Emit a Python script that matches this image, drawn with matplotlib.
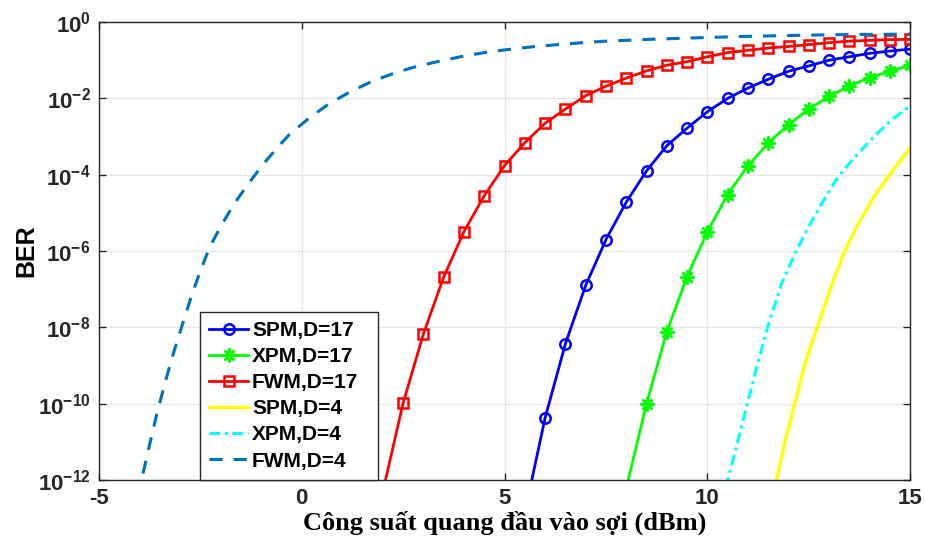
import numpy as np
import matplotlib
matplotlib.use("Agg")
import matplotlib.pyplot as plt
from matplotlib.ticker import FixedLocator

plt.rcParams['font.family'] = ['Liberation Sans', 'DejaVu Sans']
plt.rcParams['font.weight'] = 'bold'
plt.rcParams['mathtext.fontset'] = 'custom'
plt.rcParams['mathtext.rm'] = 'Liberation Sans:bold'
plt.rcParams['mathtext.bf'] = 'Liberation Sans:bold'
plt.rcParams['mathtext.default'] = 'bf'

# input power (dBm) and log10(BER) for each curve
p_d17_spm = [5.5, 6.0, 6.5, 7.0, 7.5, 8.0, 8.5, 9.0, 9.5, 10.0, 10.5, 11.0, 11.5,
             12.0, 12.5, 13.0, 13.5, 14.0, 14.5, 15.0]
spm17_log = [-12.85, -10.37, -8.43, -6.90, -5.70, -4.72, -3.90, -3.24, -2.78, -2.35,
             -2.00, -1.73, -1.50, -1.29, -1.15, -1.00, -0.91, -0.82, -0.76, -0.71]

p_d17_xpm = [8.0, 8.5, 9.0, 9.5, 10.0, 10.5, 11.0, 11.5, 12.0, 12.5, 13.0, 13.5,
             14.0, 14.5, 15.0]
xpm17_log = [-12.22, -10.00, -8.12, -6.67, -5.50, -4.52, -3.77, -3.17, -2.69, -2.28,
             -1.95, -1.67, -1.46, -1.29, -1.13]

p_d17_fwm = [2.0, 2.5, 3.0, 3.5, 4.0, 4.5, 5.0, 5.5, 6.0, 6.5, 7.0, 7.5, 8.0, 8.5,
             9.0, 9.5, 10.0, 10.5, 11.0, 11.5, 12.0, 12.5, 13.0, 13.5, 14.0, 14.5, 15.0]
fwm17_log = [-12.30, -9.98, -8.17, -6.68, -5.49, -4.55, -3.76, -3.16, -2.65, -2.28,
             -1.93, -1.68, -1.47, -1.28, -1.13, -1.04, -0.91, -0.80, -0.74, -0.68,
             -0.64, -0.59, -0.54, -0.50, -0.48, -0.46, -0.455]

p_d4_spm = [11.65, 11.92, 12.16, 12.41, 12.74, 13.11, 13.36, 13.68, 14.10, 14.51, 15.0]
spm4_log = [-12.27, -10.97, -9.98, -8.94, -7.90, -6.77, -6.07, -5.37, -4.59, -3.98, -3.30]

p_d4_xpm = [10.45, 10.72, 10.97, 11.22, 11.50, 11.83, 12.20, 12.53, 12.86, 13.19,
            13.52, 14.01, 14.51, 15.0]
xpm4_log = [-12.20, -11.11, -10.07, -9.03, -7.95, -6.85, -5.98, -5.30, -4.68, -4.11,
            -3.68, -3.11, -2.59, -2.20]

p_d4_fwm = [-4.05, -3.95, -3.79, -3.58, -3.37, -3.17, -2.92, -2.71, -2.51, -2.27, -2.02,
            -1.69, -1.36, -0.95, -0.54, -0.30, 0.20, 0.69, 1.19, 1.72, 2.30, 2.84,
            3.42, 4.00, 4.57, 5.15, 5.72, 6.34, 6.92, 7.50, 8.67, 9.82, 10.97, 12.12,
            13.27, 14.42, 15.0]
fwm4_log = [-12.45, -12.00, -11.25, -10.30, -9.45, -8.70, -7.85, -7.15, -6.55, -5.90,
            -5.40, -4.80, -4.30, -3.72, -3.22, -2.94, -2.50, -2.13, -1.83, -1.56, -1.33,
            -1.16, -1.02, -0.89, -0.79, -0.71, -0.645, -0.59, -0.54, -0.50, -0.45, -0.41,
            -0.375, -0.35, -0.33, -0.32, -0.315]

x_ticks = [-5, 0, 5, 10, 15]
y_exps = [0, -2, -4, -6, -8, -10, -12]

def ber(vals):
    return 10.0 ** np.array(vals)

fig = plt.figure(figsize=(9.25, 5.38), dpi=100)
ax = fig.add_axes([0.107, 0.108, 0.877, 0.851])

lw = 2.0
ax.semilogy(p_d17_spm, ber(spm17_log), color=(0, 0, 1), lw=lw, marker='o', ms=7.5,
            mfc='none', mew=1.8, label='SPM,D=17')
ax.semilogy(p_d17_xpm, ber(xpm17_log), color=(0, 1, 0), lw=lw, marker=(8, 2, 0),
            ms=10, mew=1.8, label='XPM,D=17')
ax.semilogy(p_d17_fwm, ber(fwm17_log), color=(1, 0, 0), lw=lw, marker='s', ms=7,
            mfc='none', mew=1.8, label='FWM,D=17')
ax.semilogy(p_d4_spm, ber(spm4_log), color=(1, 1, 0), lw=2.4, label='SPM,D=4')
ax.semilogy(p_d4_xpm, ber(xpm4_log), color=(0, 1, 1), lw=2.2,
            linestyle=(0, (3.5, 1.5, 1.0, 1.5)), label='XPM,D=4')
ax.semilogy(p_d4_fwm, ber(fwm4_log), color='#0072BD', lw=2.2,
            linestyle=(0, (4.3, 3.6)), label='FWM,D=4')

ax.set_xlim(-5, 15)
ax.set_ylim(1e-12, 1e0)
ax.xaxis.set_major_locator(FixedLocator(x_ticks))
ax.yaxis.set_major_locator(FixedLocator([10.0 ** e for e in y_exps]))
ax.yaxis.set_minor_locator(FixedLocator([]))
ax.set_yticklabels([r'$10^{%d}$' % e for e in y_exps])
ax.set_xticklabels([str(t) for t in x_ticks])

ax.grid(True, color=(0.9, 0.9, 0.9), lw=0.9)
ax.set_axisbelow(True)
ax.tick_params(direction='in', length=5, width=1, top=True, right=True,
               labelsize=16, colors=(0.15, 0.15, 0.15), pad=6)
for s in ax.spines.values():
    s.set_color((0.15, 0.15, 0.15))
    s.set_linewidth(1)

ax.set_ylabel('BER', fontsize=18, fontweight='bold', labelpad=0)
ax.set_xlabel('Công suất quang đầu vào sợi (dBm)', fontsize=19, fontweight='bold',
              family=['Liberation Serif', 'DejaVu Serif'], labelpad=1)

leg = ax.legend(loc='lower left', bbox_to_anchor=(0.1245, 0.0, 0.2195, 0.365),
                mode='expand', fontsize=15, handlelength=1.85, handletextpad=0.2,
                labelspacing=0.34, borderpad=0.45, borderaxespad=0.0,
                fancybox=False, framealpha=1, edgecolor=(0.15, 0.15, 0.15))
leg.get_frame().set_linewidth(1)

fig.savefig('out.png', dpi=100)
